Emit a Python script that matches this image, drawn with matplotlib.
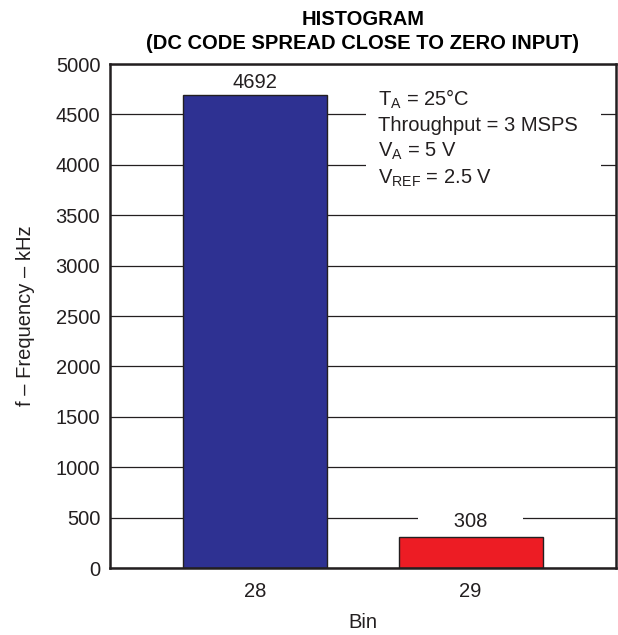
import matplotlib
matplotlib.use("Agg")
import matplotlib.pyplot as plt
from matplotlib.patches import Rectangle

# data
bins = [28, 29]
counts = [4692, 308]
bar_colors = ["#2E3192", "#ED1C24"]
y_ticks = [0, 500, 1000, 1500, 2000, 2500, 3000, 3500, 4000, 4500, 5000]
notes = [r"T$_{\mathrm{A}}$ = 25°C",
         "Throughput = 3 MSPS",
         r"V$_{\mathrm{A}}$ = 5 V",
         r"V$_{\mathrm{REF}}$ = 2.5 V"]

plt.rcParams["font.family"] = ["Liberation Sans", "DejaVu Sans"]
plt.rcParams["mathtext.fontset"] = "custom"
plt.rcParams["mathtext.rm"] = "Liberation Sans"
plt.rcParams["mathtext.it"] = "Liberation Sans:italic"
plt.rcParams["mathtext.bf"] = "Liberation Sans:bold"

txt = "#231F20"
fs = 14.5

fig = plt.figure(figsize=(6.18, 6.35), dpi=100)
ax = fig.add_axes([110 / 618, 1 - 568 / 635, 506 / 618, 504 / 635])

ax.bar(bins, counts, width=0.67, color=bar_colors, edgecolor=txt, linewidth=1, zorder=2)

ax.set_xlim(27.325, 29.675)
ax.set_ylim(0, 5000)
ax.set_xticks(bins)
ax.set_yticks(y_ticks)
ax.tick_params(length=0, labelsize=fs, labelcolor=txt)
ax.tick_params(axis="y", pad=7)
ax.tick_params(axis="x", pad=10)

ax.set_axisbelow(True)
ax.yaxis.grid(True, color=txt, linewidth=0.9)
for s in ax.spines.values():
    s.set_linewidth(1.8)
    s.set_color(txt)

# value labels
ax.annotate(str(counts[0]), (bins[0], counts[0]), xytext=(0, 2), textcoords="offset points",
            ha="center", va="bottom", fontsize=fs, color=txt)
ax.annotate("      " + str(counts[1]) + "      ", (bins[1], counts[1]), xytext=(0, 4.5),
            textcoords="offset points", ha="center", va="bottom", fontsize=fs, color=txt,
            bbox=dict(boxstyle="square,pad=0.1", fc="white", ec="none"), zorder=3)

# conditions block with white background breaking the grid
ax.add_patch(Rectangle((0.505, 0.755), 0.465, 0.2, transform=ax.transAxes,
                       fc="white", ec="none", zorder=1))
for i, s in enumerate(notes):
    ax.text(0.53, 0.93 - i * 0.052, s, transform=ax.transAxes, ha="left", va="center",
            fontsize=fs, color=txt, zorder=3)

ax.set_title("HISTOGRAM\n(DC CODE SPREAD CLOSE TO ZERO INPUT)", fontsize=fs,
             fontweight="bold", color="black", pad=11, linespacing=1.3)
ax.set_xlabel("Bin", fontsize=fs, color=txt, labelpad=9)
ax.set_ylabel("f \u2013 Frequency \u2013 kHz", fontsize=fs, color=txt, labelpad=15)

fig.savefig("out.png", dpi=100)
